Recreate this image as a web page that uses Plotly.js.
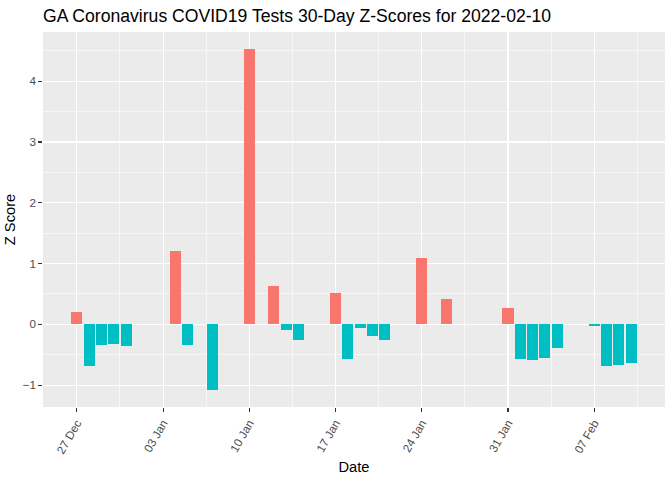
<!DOCTYPE html>
<html>
<head>
<meta charset="utf-8">
<script src="https://cdn.plot.ly/plotly-3.0.1.min.js"></script>
<style>
html,body{margin:0;padding:0;background:#fff;}
#chart{width:672px;height:480px;}
</style>
</head>
<body>
<div id="chart"></div>
<script>
var dates = ["2021-12-27","2021-12-28","2021-12-29","2021-12-30","2021-12-31",
  "2022-01-04","2022-01-05","2022-01-07","2022-01-10","2022-01-12","2022-01-13","2022-01-14",
  "2022-01-17","2022-01-18","2022-01-19","2022-01-20","2022-01-21","2022-01-24","2022-01-26",
  "2022-01-31","2022-02-01","2022-02-02","2022-02-03","2022-02-04","2022-02-07","2022-02-08",
  "2022-02-09","2022-02-10"];
var zscores = [0.21,-0.69,-0.345,-0.33,-0.36,
  1.205,-0.34,-1.08,4.53,0.63,-0.095,-0.26,
  0.515,-0.57,-0.06,-0.19,-0.26,1.09,0.415,
  0.27,-0.57,-0.585,-0.555,-0.39,-0.03,-0.69,
  -0.67,-0.64];
var posColor = "#F8766D", negColor = "#00BFC4";
var DAY = 86400000;

var colors = zscores.map(function(v){ return v > 0 ? posColor : negColor; });

var trace = {
  type: "bar",
  x: dates,
  y: zscores,
  width: 0.9 * DAY,
  marker: {color: colors, line: {width: 0}},
  hoverinfo: "x+y",
  showlegend: false
};

var layout = {
  width: 672, height: 480,
  paper_bgcolor: "#ffffff",
  plot_bgcolor: "#EBEBEB",
  margin: {l: 43, r: 7, t: 32, b: 73},
  font: {family: "Liberation Sans, Arial, sans-serif", color: "#000000"},
  title: {
    text: "GA Coronavirus COVID19 Tests 30-Day Z-Scores for 2022-02-10",
    font: {size: 17.6, color: "#000000"},
    x: 43/672, xanchor: "left", xref: "container",
    y: 1 - 22/480, yanchor: "bottom", yref: "container"
  },
  xaxis: {
    type: "date",
    range: ["2021-12-24 06:07", "2022-02-12 17:53"],
    tick0: "2021-12-27",
    dtick: 7 * DAY,
    tickformat: "%d %b",
    tickangle: -60,
    ticks: "outside", ticklen: 3.7, tickwidth: 1.07, tickcolor: "#333333",
    tickfont: {size: 11.7, color: "#4D4D4D"},
    showgrid: true, gridcolor: "#ffffff", gridwidth: 1.07,
    minor: {dtick: 3.5 * DAY, tick0: "2021-12-27", showgrid: true, gridcolor: "#ffffff", gridwidth: 0.53, ticks: ""},
    zeroline: false, showline: false,
    title: {text: "Date", font: {size: 14.7, color: "#000000"}, standoff: 6},
    fixedrange: true
  },
  yaxis: {
    range: [-1.36, 4.81],
    tick0: 0, dtick: 1,
    ticks: "outside", ticklen: 3.7, tickwidth: 1.07, tickcolor: "#333333",
    tickfont: {size: 11.7, color: "#4D4D4D"},
    showgrid: true, gridcolor: "#ffffff", gridwidth: 1.07,
    minor: {dtick: 0.5, showgrid: true, gridcolor: "#ffffff", gridwidth: 0.53, ticks: ""},
    zeroline: false, showline: false,
    title: {text: "Z Score", font: {size: 14.7, color: "#000000"}, standoff: 3},
    fixedrange: true
  },
  bargap: 0
};

Plotly.newPlot("chart", [trace], layout, {displayModeBar: false, staticPlot: true});
</script>
</body>
</html>
